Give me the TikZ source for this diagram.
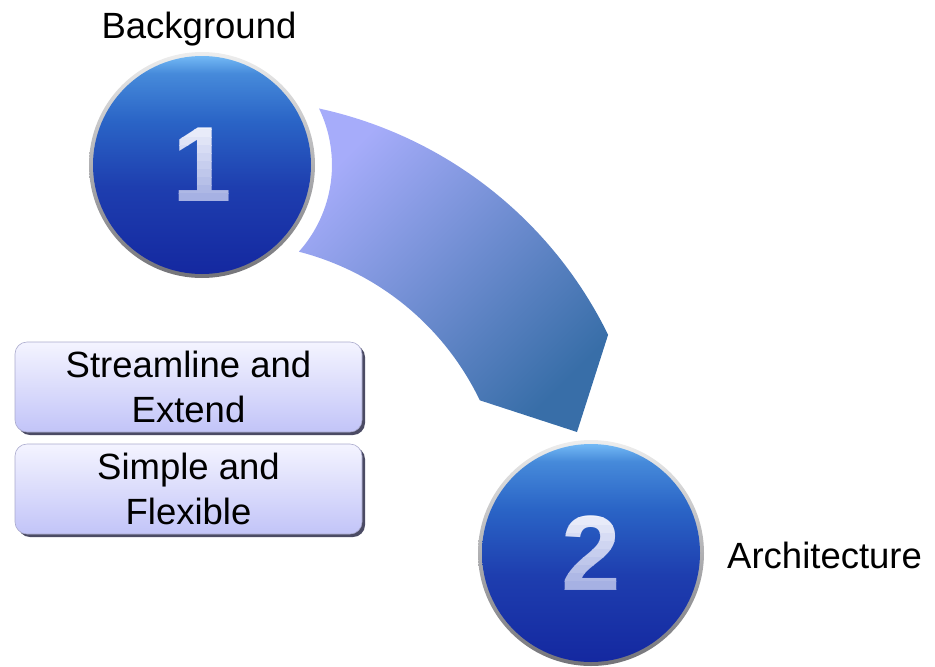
\documentclass[tikz,border=0pt]{standalone}
\usepackage{fontspec}
\setmainfont{Liberation Sans}
\usetikzlibrary{shadows,calc}
\definecolor{bandA}{RGB}{166,172,250}
\definecolor{bandB}{RGB}{56,110,168}
\definecolor{boxtop}{RGB}{244,244,255}
\definecolor{boxbot}{RGB}{194,196,248}
\definecolor{boxshadow}{RGB}{75,75,100}
\definecolor{boxedge}{RGB}{170,170,205}
\definecolor{ringtop}{RGB}{238,238,238}
\definecolor{ringbot}{RGB}{115,115,120}
\definecolor{numtop}{RGB}{240,242,252}
\definecolor{numbot}{RGB}{158,170,224}
\definecolor{bbA}{RGB}{20,40,160}
\definecolor{bbB}{RGB}{30,62,175}
\definecolor{bbC}{RGB}{42,100,198}
\definecolor{bbD}{RGB}{70,138,218}
\definecolor{bbE}{RGB}{115,185,245}
\pgfdeclareverticalshading{ballblue}{100bp}{color(0bp)=(bbA); color(25bp)=(bbA); color(45bp)=(bbB); color(60bp)=(bbC); color(71bp)=(bbD); color(75bp)=(bbE); color(100bp)=(bbE)}
\tikzset{
  lbl/.style={inner sep=0pt, font=\fontsize{36.5}{45}\selectfont, text=black},
  ring/.style={circle, inner sep=0pt, minimum size=226pt, top color=ringtop, bottom color=ringbot},
  ball/.style={circle, inner sep=0pt, minimum size=218pt, shading=ballblue},
  digit/.style={inner sep=0pt, font=\fontsize{107}{107}\selectfont\bfseries},
  infobox/.style={rounded corners=12pt, inner sep=0pt, minimum width=347pt, minimum height=90pt,
    top color=boxtop, bottom color=boxbot, draw=boxedge, line width=0.6pt, align=center,
    font=\fontsize{36.5}{45}\selectfont,
    drop shadow={shadow xshift=3pt, shadow yshift=-3pt, fill=boxshadow, opacity=1}},
  band/.style={top color=bandA, bottom color=bandB, shading angle=45}
}
% digit drawn in horizontal strips: white at top, lavender at bottom
\newcommand\gradDigit[3]{%
  \foreach \i in {0,...,10}{%
    \pgfmathsetmacro\p{\i*10}%
    \begin{scope}
      \clip ($(#1)+(-70,44-\i*8)$) rectangle ($(#1)+(70,44-\i*8-8.6)$);
      \node[digit, text=numbot!\p!numtop] (#3-\i) at (#1) {#2};
    \end{scope}}}
\begin{document}
\begin{tikzpicture}[x=1pt,y=1pt]
\useasboundingbox (0,0) rectangle (935,-667);
% band from circle 1 to circle 2
\shade[band]
  (319,-108.5) arc[start angle=77.8, end angle=26.1, radius=421]
  -- (577,-432) -- (479.8,-400.3)
  arc[start angle=25.6, end angle=75.6, radius=277]
  arc[start angle=-41.8, end angle=25.8, radius=130] -- cycle;
% circles
\node[ring] (r1) at (202,-165) {};
\node[ball] (n1) at (r1) {};
\gradDigit{n1}{1}{da}
\node[ring] (r2) at (591,-553) {};
\node[ball] (n2) at (r2) {};
\gradDigit{n2}{2}{db}
% labels
\node[lbl, anchor=base] (bg) at (199,-38) {Background};
\node[lbl, anchor=base west] (ar) at (727,-568) {Architecture};
% boxes
\node[infobox] (b1) at (188.5,-387) {Streamline and\\Extend};
\node[infobox] (b2) at (188.5,-489) {Simple and\\Flexible};
\end{tikzpicture}
\end{document}
